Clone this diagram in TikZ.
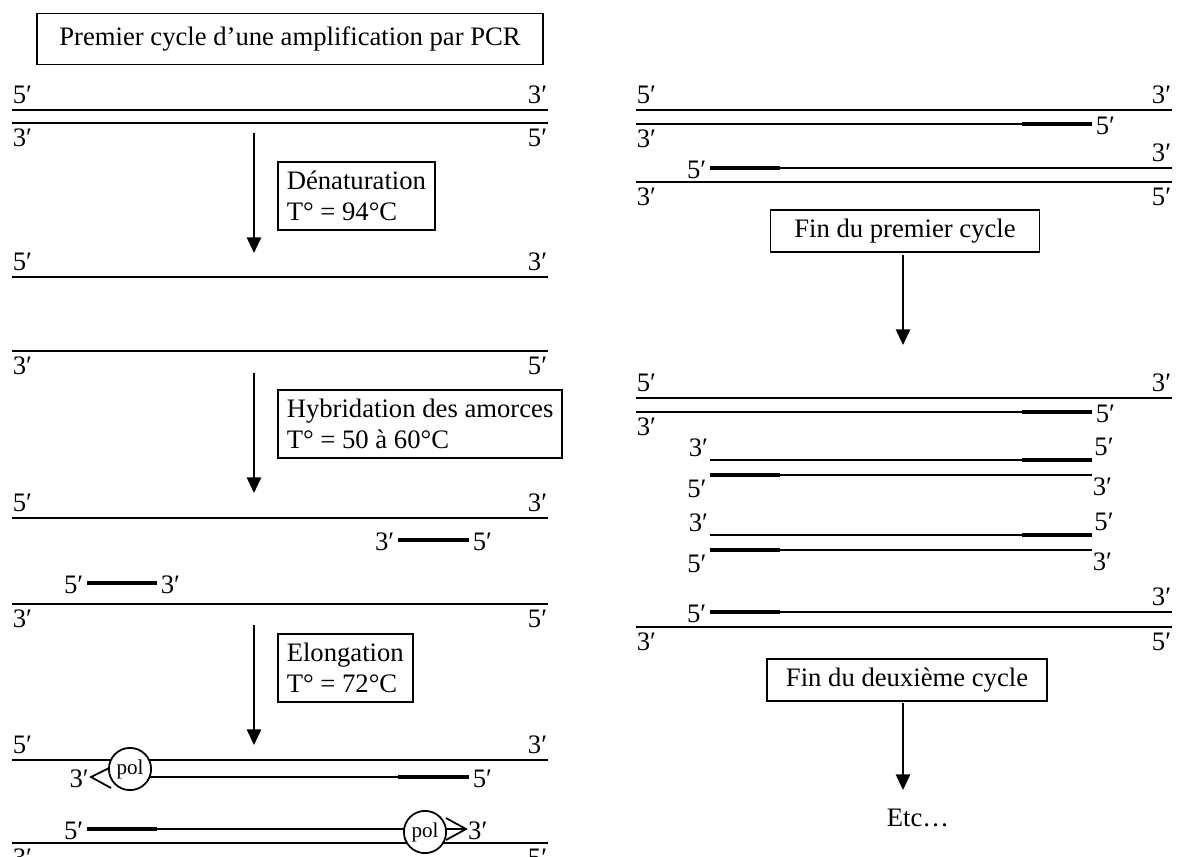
\documentclass[tikz,border=0pt]{standalone}
\usepackage{fontspec}
\setmainfont{Liberation Serif}
\usetikzlibrary{arrows.meta}

\tikzset{
  strand/.style={line width=0.8pt},
  primer/.style={line width=2.2pt},
  topleft/.style={anchor=south west,inner sep=0pt,yshift=2.6pt},
  topright/.style={anchor=south east,inner sep=0pt,yshift=2.6pt},
  botleft/.style={anchor=north west,inner sep=0pt,yshift=-2.4pt},
  botright/.style={anchor=north east,inner sep=0pt,yshift=-2.4pt},
  atleft/.style={anchor=east,inner sep=0.6pt,yshift=-1pt},
  atright/.style={anchor=west,inner sep=0.6pt,yshift=-1pt},
  stepbox/.style={draw,line width=0.8pt,align=left,inner xsep=4pt,inner ysep=4pt},
  polcirc/.style={draw,circle,fill=white,line width=0.8pt,inner sep=0pt,
    minimum size=19pt,font=\fontsize{9.5}{10}\selectfont},
}

\begin{document}
\begin{tikzpicture}[x=0.45pt,y=-0.45pt,>={Triangle[length=7pt,width=6.4pt]},
  font=\fontsize{12}{14}\selectfont]
\useasboundingbox (0,0) rectangle (1180,856);

% the title box
\node[stepbox,align=center,minimum width=228pt,minimum height=23pt] (title) at (290,39)
  {Premier cycle d’une amplification par PCR};

% the double strand at the start
\draw[strand] (12,110) node[topleft] (a5) {5′} -- (548,110) node[topright] (a3) {3′};
\draw[strand] (12,123) node[botleft] (b3) {3′} -- (548,123) node[botright] (b5) {5′};

% first step: denaturation
\coordinate (d1) at (254,133);
\coordinate (d2) at (254,253);
\draw[->,line width=0.8pt] (d1) -- (d2);
\node[stepbox,anchor=west] (denat) at (277,196) {Dénaturation\\T° = 94°C};

% the two single strands
\draw[strand] (12,277) node[topleft] (c5) {5′} -- (548,277) node[topright] (c3) {3′};
\draw[strand] (12,351) node[botleft] (e3) {3′} -- (548,351) node[botright] (e5) {5′};

% second step: hybridation
\coordinate (h1) at (254,373);
\coordinate (h2) at (254,493);
\draw[->,line width=0.8pt] (h1) -- (h2);
\node[stepbox,anchor=west] (hybr) at (277,424) {Hybridation des amorces\\T° = 50 à 60°C};

% strands with the primers
\draw[strand] (12,518) node[topleft] (f5) {5′} -- (548,518) node[topright] (f3) {3′};
\draw[primer] (398,540) node[atleft] (p3) {3′} -- (469,540) node[atright] (p5) {5′};
\draw[primer] (87,583) node[atleft] (q5) {5′} -- (157,583) node[atright] (q3) {3′};
\draw[strand] (12,604) node[botleft] (g3) {3′} -- (548,604) node[botright] (g5) {5′};

% third step: elongation
\coordinate (e1) at (254,625);
\coordinate (e2) at (254,745);
\draw[->,line width=0.8pt] (e1) -- (e2);
\node[stepbox,anchor=west] (elong) at (277,668) {Elongation\\T° = 72°C};

% upper strand and its copy
\draw[strand] (12,760) node[topleft] (k5) {5′} -- (548,760) node[topright] (k3) {3′};
\draw[strand] (130,777) -- (398,777);
\draw[primer] (398,777) -- (469,777) node[atright] (m5) {5′};
\draw[strand] (111,767) -- (91,777) node[atleft] (m3) {3′} -- (111,788);
\node[polcirc] (pol1) at (130,769) {pol};

% lower strand and its copy
\draw[strand] (157,829) -- (466,829);
\draw[primer] (87,829) node[atleft] (n5) {5′} -- (157,829);
\draw[strand] (446,818) -- (466,829) node[atright] (n3) {3′} -- (446,840);
\draw[strand] (12,843) node[botleft] (o3) {3′} -- (548,843) node[botright] (o5) {5′};
\node[polcirc] (pol2) at (425,832) {pol};

% end of the first cycle
\draw[strand] (636,110) node[topleft] (r5) {5′} -- (1172,110) node[topright] (r3) {3′};
\draw[strand] (636,124) node[botleft] (s3) {3′} -- (1022,124);
\draw[primer] (1022,124) -- (1092,124) node[atright] (s5) {5′};
\draw[primer] (710,168) node[atleft] (t5) {5′} -- (780,168);
\draw[strand] (780,168) -- (1172,168) node[topright] (t3) {3′};
\draw[strand] (636,182) node[botleft] (u3) {3′} -- (1172,182) node[botright] (u5) {5′};

\node[stepbox,align=center,minimum width=121pt,minimum height=18pt] (cyc1) at (905,231)
  {Fin du premier cycle};
\coordinate (c1a) at (903,255);
\coordinate (c1b) at (903,345);
\draw[->,line width=0.8pt] (c1a) -- (c1b);

% end of the second cycle
\draw[strand] (636,398) node[topleft] (v5) {5′} -- (1172,398) node[topright] (v3) {3′};
\draw[strand] (636,412) node[botleft] (w3) {3′} -- (1022,412);
\draw[primer] (1022,412) -- (1092,412) node[atright] (w5) {5′};
% the two short double strands
\foreach \y in {460,535} {
  \draw[strand] (710,\y) node[anchor=south east,inner sep=0pt,xshift=-0.5pt,yshift=1pt] (i\y) {3′} -- (1022,\y);
  \draw[primer] (1022,\y) -- (1092,\y) node[anchor=south west,inner sep=0pt,yshift=1pt] (j\y) {5′};
  \draw[primer] (710,\y+15) node[anchor=north east,inner sep=0pt,xshift=-0.5pt,yshift=-1pt] (k\y) {5′} -- (780,\y+15);
  \draw[strand] (780,\y+15) -- (1092,\y+15) node[anchor=north west,inner sep=0pt,yshift=-1pt] (l\y) {3′};
}
\draw[primer] (710,612) node[atleft] (x5) {5′} -- (780,612);
\draw[strand] (780,612) -- (1172,612) node[topright] (x3) {3′};
\draw[strand] (636,627) node[botleft] (y3) {3′} -- (1172,627) node[botright] (y5) {5′};

\node[stepbox,align=center,minimum width=126pt,minimum height=18pt] (cyc2) at (907,680)
  {Fin du deuxième cycle};
\coordinate (c2a) at (903,703);
\coordinate (c2b) at (903,790);
\draw[->,line width=0.8pt] (c2a) -- (c2b);
\node (etc) at (918,818) {Etc…};
\end{tikzpicture}
\end{document}
